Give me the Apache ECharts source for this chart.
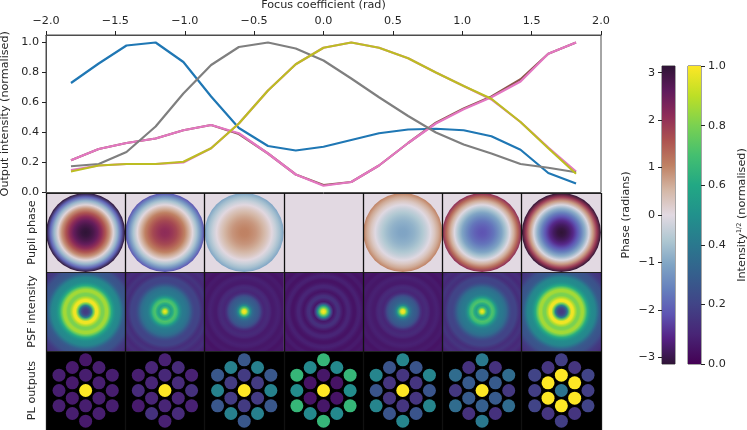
<!DOCTYPE html>
<html lang="en" style="height: 100%">
<head>
  <meta charset="UTF-8">
  <title>Focus scan</title>
  <style>html, body { background: #fff; }</style>
</head>
<body style="height: 100%; margin: 0">
<div id="container" style="width: 747px; height: 430px"></div>
<script src="https://cdn.jsdelivr.net/npm/echarts@6/dist/echarts.min.js"></script>
<script type="text/javascript">
  // focus coefficient of each scan step
  var focusValues = [-1.82, -1.62, -1.42, -1.21, -1.01, -0.81, -0.61, -0.40, -0.20, 0, 0.20, 0.40, 0.61, 0.81, 1.01, 1.21, 1.42, 1.62, 1.82];

  // output intensity curves, in drawing order
  var blueOutput = [0.73, 0.86, 0.98, 1.0, 0.87, 0.64, 0.43, 0.31, 0.28, 0.305, 0.35, 0.395, 0.42, 0.425, 0.415, 0.375, 0.285, 0.13, 0.06];
  var brownOutput = [0.215, 0.29, 0.33, 0.36, 0.415, 0.45, 0.39, 0.26, 0.12, 0.05, 0.07, 0.18, 0.33, 0.465, 0.56, 0.64, 0.755, 0.925, 1.0];
  var pinkLowOutput = [0.15, 0.18, 0.19, 0.19, 0.20, 0.295, 0.46, 0.68, 0.855, 0.965, 1.0, 0.965, 0.895, 0.80, 0.71, 0.62, 0.47, 0.30, 0.14];
  var pinkOutput = [0.215, 0.29, 0.33, 0.36, 0.415, 0.45, 0.395, 0.26, 0.12, 0.045, 0.07, 0.18, 0.33, 0.46, 0.555, 0.635, 0.74, 0.925, 1.0];
  var grayOutput = [0.175, 0.19, 0.27, 0.44, 0.66, 0.85, 0.97, 1.0, 0.96, 0.88, 0.76, 0.635, 0.51, 0.40, 0.32, 0.26, 0.19, 0.165, 0.135];
  var oliveOutput = [0.14, 0.18, 0.19, 0.19, 0.205, 0.295, 0.46, 0.68, 0.855, 0.965, 1.0, 0.965, 0.895, 0.80, 0.71, 0.625, 0.47, 0.295, 0.125];
  var outputNames = ['blue', 'brown', 'pinkLow', 'pink', 'gray', 'olive'];
  var outputValues = [blueOutput, brownOutput, pinkLowOutput, pinkOutput, grayOutput, oliveOutput];
  var outputColors = ['#1f77b4', '#8c564b', '#e377c2', '#e377c2', '#7f7f7f', '#bcbd22'];

  // pupil phase (rad), centre to edge, one list per panel
  var pupilPhase0 = [3.14, 3.05, 2.85, 2.55, 2.1, 1.55, 0.9, 0.1, -0.8, -1.9, -3.14];
  var pupilPhase1 = [2.1, 2.05, 1.9, 1.7, 1.4, 1.05, 0.6, 0.05, -0.6, -1.3, -2.1];
  var pupilPhase2 = [1.05, 1.03, 0.95, 0.85, 0.7, 0.52, 0.3, 0.03, -0.3, -0.65, -1.05];
  var pupilPhase3 = [0, 0, 0, 0, 0, 0, 0, 0, 0, 0, 0];
  var pupilPhase4 = [-1.05, -1.03, -0.95, -0.85, -0.7, -0.52, -0.3, -0.03, 0.3, 0.65, 1.05];
  var pupilPhase5 = [-2.1, -2.05, -1.9, -1.7, -1.4, -1.05, -0.6, -0.05, 0.6, 1.3, 2.1];
  var pupilPhase6 = [-3.14, -3.05, -2.85, -2.55, -2.1, -1.55, -0.9, -0.1, 0.8, 1.9, 3.14];
  var pupilPanels = [pupilPhase0, pupilPhase1, pupilPhase2, pupilPhase3, pupilPhase4, pupilPhase5, pupilPhase6];

  // PSF intensity, centre to panel corner
  var psfWide = [0.17, 0.18, 0.24, 0.42, 0.78, 0.98, 0.98, 0.88, 0.80, 0.80, 0.86, 0.86, 0.76, 0.62, 0.53, 0.48, 0.47, 0.45, 0.38, 0.30, 0.27, 0.26, 0.25, 0.22, 0.18, 0.16, 0.15, 0.13, 0.11];
  var psfMid = [1.0, 0.90, 0.68, 0.55, 0.62, 0.72, 0.68, 0.55, 0.45, 0.41, 0.40, 0.38, 0.35, 0.29, 0.23, 0.20, 0.20, 0.20, 0.16, 0.13, 0.14, 0.15, 0.13, 0.11, 0.12, 0.13, 0.11, 0.09, 0.09];
  var psfNear = [1.0, 0.95, 0.72, 0.48, 0.36, 0.31, 0.29, 0.27, 0.22, 0.14, 0.10, 0.11, 0.12, 0.10, 0.07, 0.07, 0.08, 0.09, 0.08, 0.06, 0.06, 0.07, 0.07, 0.05, 0.05, 0.06, 0.06, 0.05, 0.05];
  var psfFocus = [1.0, 0.95, 0.75, 0.48, 0.20, 0.06, 0.09, 0.14, 0.13, 0.08, 0.05, 0.07, 0.10, 0.10, 0.07, 0.05, 0.05, 0.08, 0.09, 0.07, 0.05, 0.05, 0.07, 0.07, 0.05, 0.05, 0.06, 0.05, 0.05];
  var psfPanels = [psfWide, psfMid, psfNear, psfFocus, psfNear, psfMid, psfWide];

  // PL output brightness per panel: five hex columns of spots, top to bottom
  var plOutputs0 = [[0.08, 0.08, 0.08], [0.07, 0.07, 0.07, 0.08], [0.06, 0.08, 1, 0.08, 0.07], [0.08, 0.08, 0.08, 0.08], [0.08, 0.08, 0.08]];
  var plOutputs1 = [[0.08, 0.12, 0.07], [0.10, 0.10, 0.10, 0.14], [0.09, 0.11, 1, 0.10, 0.09], [0.12, 0.12, 0.10, 0.12], [0.09, 0.14, 0.09]];
  var plOutputs2 = [[0.27, 0.44, 0.27], [0.43, 0.17, 0.17, 0.43], [0.27, 0.17, 1, 0.17, 0.27], [0.43, 0.17, 0.17, 0.43], [0.27, 0.44, 0.27]];
  var plOutputs3 = [[0.66, 0.48, 0.66], [0.47, 0.05, 0.05, 0.47], [0.66, 0.06, 1, 0.06, 0.66], [0.47, 0.05, 0.05, 0.47], [0.66, 0.48, 0.66]];
  var plOutputs4 = [[0.45, 0.26, 0.45], [0.26, 0.15, 0.15, 0.26], [0.45, 0.15, 1, 0.15, 0.45], [0.26, 0.15, 0.15, 0.26], [0.45, 0.26, 0.45]];
  var plOutputs5 = [[0.35, 0.16, 0.35], [0.14, 0.28, 0.28, 0.14], [0.40, 0.30, 1, 0.30, 0.40], [0.14, 0.28, 0.28, 0.14], [0.35, 0.16, 0.35]];
  var plOutputs6 = [[0.20, 0.18, 0.20], [0.15, 1, 1, 0.15], [0.18, 1, 0.38, 1, 0.18], [0.15, 1, 1, 0.15], [0.20, 0.18, 0.20]];
  var plPanels = [plOutputs0, plOutputs1, plOutputs2, plOutputs3, plOutputs4, plOutputs5, plOutputs6];

  var rowLabels = ['PL outputs', 'PSF intensity', 'Pupil phase'];
  var focusTicks = [-2, -1.5, -1, -0.5, 0, 0.5, 1, 1.5, 2];
  var intensityTicks = [0, 0.2, 0.4, 0.6, 0.8, 1];
  var phaseTicks = [-3, -2, -1, 0, 1, 2, 3];

  // colour maps, evenly spaced from low to high
  var viridis = ['#440154', '#482576', '#414487', '#355f8d', '#2a788e', '#21918c', '#22a884', '#44bf70', '#7ad151', '#bddf26', '#fde725'];
  var twilight = ['#2f1436', '#552183', '#5e55b3', '#6680bd', '#7fa4c4', '#b0c8d2', '#e2d9e2', '#d4b7a6', '#bf8163', '#ad5350', '#8e2c58', '#5f1b5c', '#2f1436'];

  var textColor = '#262626';
  var spineColor = '#4d4d4d';
  var fontSize = 11.2;
  var fontFamily = 'DejaVu Sans';

  function phaseColor(v) {
    return echarts.color.lerp((v + Math.PI) / (2 * Math.PI), twilight);
  }
  function intensityColor(v) {
    return echarts.color.lerp(v, viridis);
  }
  function minusSign(s) {
    return String(s).replace('-', '\u2212');
  }
  function gradientStops(values, colorOf) {
    return values.map(function (v, i) {
      return { offset: i / (values.length - 1), color: colorOf(v) };
    });
  }

  function renderPupil(params, api) {
    var col = api.value(0);
    var mid = api.coord([col + 0.5, 2.5]);
    var size = api.size([1, 1]);
    var stops = gradientStops(pupilPanels[col], phaseColor);
    return {
      type: 'group',
      children: [
        {
          type: 'rect',
          shape: { x: mid[0] - size[0] / 2, y: mid[1] - size[1] / 2, width: size[0], height: size[1] },
          style: { fill: phaseColor(0) }
        },
        {
          type: 'circle',
          shape: { cx: mid[0], cy: mid[1], r: Math.min(size[0], size[1]) / 2 },
          style: { fill: new echarts.graphic.RadialGradient(0.5, 0.5, 0.5, stops) }
        }
      ]
    };
  }

  function renderPsf(params, api) {
    var col = api.value(0);
    var mid = api.coord([col + 0.5, 1.5]);
    var size = api.size([1, 1]);
    var stops = gradientStops(psfPanels[col], intensityColor);
    return {
      type: 'rect',
      shape: { x: mid[0] - size[0] / 2, y: mid[1] - size[1] / 2, width: size[0], height: size[1] },
      style: { fill: new echarts.graphic.RadialGradient(0.5, 0.5, Math.SQRT2 / 2, stops) }
    };
  }

  function renderColorbar(stops) {
    return function (params, api) {
      var top = api.coord([0, api.value(1)]);
      var bottom = api.coord([0, api.value(0)]);
      var size = api.size([1, 0]);
      return {
        type: 'rect',
        shape: { x: top[0] - size[0] / 2, y: top[1], width: size[0], height: bottom[1] - top[1] },
        style: { fill: new echarts.graphic.LinearGradient(0, 1, 0, 0, stops) }
      };
    };
  }

  // spots on the hex lattice, one column of the PL panel at a time
  var plSpots = [];
  plPanels.forEach(function (panel, col) {
    panel.forEach(function (column, c) {
      column.forEach(function (v, k) {
        plSpots.push({
          value: [col + 0.5 + (c - 2) * 0.168, 0.5 + ((column.length - 1) / 2 - k) * 0.194],
          itemStyle: { color: intensityColor(v), opacity: 1 }
        });
      });
    });
  });

  var panelIndex = pupilPanels.map(function (d, i) { return [i]; });

  var axisText = { color: textColor, fontSize: fontSize, fontFamily: fontFamily };
  var spine = { show: true, onZero: false, lineStyle: { color: spineColor, width: 1 } };
  var tick = { show: true, length: 4, lineStyle: { color: '#222', width: 1 } };

  function frame(g) {
    g.show = true;
    g.borderColor = spineColor;
    g.borderWidth = 1;
    g.backgroundColor = 'transparent';
    g.outerBoundsMode = 'none';
    return g;
  }

  var option = {
    animation: false,
    backgroundColor: '#fff',
    grid: [
      frame({ left: 46, top: 35, width: 555, height: 157.5 }),
      { left: 46, top: 193, width: 555, height: 237, show: false, outerBoundsMode: 'none' },
      frame({ left: 662, top: 66, width: 13, height: 298 }),
      frame({ left: 688, top: 66, width: 13, height: 298 })
    ],
    xAxis: [
      {
        gridIndex: 0, type: 'value', position: 'top', min: -2, max: 2,
        name: 'Focus coefficient (rad)', nameLocation: 'middle', nameGap: 24,
        nameTextStyle: axisText,
        axisLine: spine,
        axisTick: Object.assign({ customValues: focusTicks }, tick),
        axisLabel: Object.assign({
          customValues: focusTicks, margin: 8,
          formatter: function (v) { return minusSign(v.toFixed(1)); }
        }, axisText),
        splitLine: { show: false }
      },
      {
        gridIndex: 1, type: 'value', min: 0, max: 7, interval: 1, z: 8,
        axisLine: { show: false }, axisTick: { show: false }, axisLabel: { show: false },
        splitLine: { show: true, lineStyle: { color: '#111', width: 1.3 } }
      },
      { gridIndex: 2, type: 'category', data: ['phase'], show: false },
      { gridIndex: 3, type: 'category', data: ['intensity'], show: false }
    ],
    yAxis: [
      {
        gridIndex: 0, type: 'value', min: 0, max: 1.05,
        name: 'Output intensity (normalised)', nameLocation: 'middle', nameGap: 33,
        nameTextStyle: axisText,
        axisLine: spine,
        axisTick: Object.assign({ customValues: intensityTicks }, tick),
        axisLabel: Object.assign({
          customValues: intensityTicks, margin: 7,
          formatter: function (v) { return v.toFixed(1); }
        }, axisText),
        splitLine: { show: false }
      },
      {
        gridIndex: 1, type: 'value', min: 0, max: 3, interval: 1, z: 8,
        axisLine: { show: false }, axisTick: { show: false },
        axisLabel: Object.assign({
          customValues: [0.5, 1.5, 2.5], rotate: 90, margin: 8,
          formatter: function (v) { return rowLabels[Math.floor(v)]; }
        }, axisText),
        splitLine: { show: true, lineStyle: { color: '#222', width: 1 } }
      },
      {
        gridIndex: 2, type: 'value', min: -Math.PI, max: Math.PI,
        name: 'Phase (radians)', nameLocation: 'middle', nameGap: 30,
        nameTextStyle: axisText,
        axisLine: { show: false },
        axisTick: Object.assign({ customValues: phaseTicks }, tick),
        axisLabel: Object.assign({
          customValues: phaseTicks, margin: 7,
          formatter: function (v) { return minusSign(v); }
        }, axisText),
        splitLine: { show: false }
      },
      {
        gridIndex: 3, type: 'value', position: 'right', min: 0, max: 1,
        name: '{a|Intensity}{s|1/2}{a| (normalised)}', nameLocation: 'middle', nameGap: 35, nameRotate: 90,
        nameTextStyle: {
          rich: {
            a: axisText,
            s: { color: textColor, fontSize: 6.5, fontFamily: fontFamily, verticalAlign: 'top', lineHeight: 12 }
          }
        },
        axisLine: { show: false },
        axisTick: Object.assign({ customValues: intensityTicks }, tick),
        axisLabel: Object.assign({
          customValues: intensityTicks, margin: 7,
          formatter: function (v) { return v.toFixed(1); }
        }, axisText),
        splitLine: { show: false }
      }
    ],
    series: outputValues.map(function (values, i) {
      return {
        name: outputNames[i],
        type: 'line',
        xAxisIndex: 0,
        yAxisIndex: 0,
        symbol: 'none',
        silent: true,
        lineStyle: { color: outputColors[i], width: 2.2 },
        data: values.map(function (v, k) { return [focusValues[k], v]; })
      };
    }).concat([
      {
        name: 'PL background', type: 'custom', xAxisIndex: 1, yAxisIndex: 1, silent: true, z: 1,
        renderItem: function (params, api) {
          var mid = api.coord([3.5, 0.5]);
          var size = api.size([7, 1]);
          return {
            type: 'rect',
            shape: { x: mid[0] - size[0] / 2, y: mid[1] - size[1] / 2, width: size[0], height: size[1] },
            style: { fill: '#000' }
          };
        },
        data: [[0]]
      },
      { name: 'Pupil phase', type: 'custom', xAxisIndex: 1, yAxisIndex: 1, silent: true, z: 2, renderItem: renderPupil, data: panelIndex },
      { name: 'PSF intensity', type: 'custom', xAxisIndex: 1, yAxisIndex: 1, silent: true, z: 2, renderItem: renderPsf, data: panelIndex },
      { name: 'PL outputs', type: 'scatter', xAxisIndex: 1, yAxisIndex: 1, silent: true, z: 3, symbolSize: 13, data: plSpots },
      {
        name: 'Phase bar', type: 'custom', xAxisIndex: 2, yAxisIndex: 2, silent: true,
        renderItem: renderColorbar(twilight.map(function (c, i) { return { offset: i / (twilight.length - 1), color: c }; })),
        encode: { y: [0, 1] },
        data: [[-Math.PI, Math.PI]]
      },
      {
        name: 'Intensity bar', type: 'custom', xAxisIndex: 3, yAxisIndex: 3, silent: true,
        renderItem: renderColorbar(viridis.map(function (c, i) { return { offset: i / (viridis.length - 1), color: c }; })),
        encode: { y: [0, 1] },
        data: [[0, 1]]
      }
    ])
  };

  var myChart = echarts.init(document.getElementById('container'), null, { renderer: 'canvas' });
  myChart.setOption(option);
</script>
</body>
</html>
